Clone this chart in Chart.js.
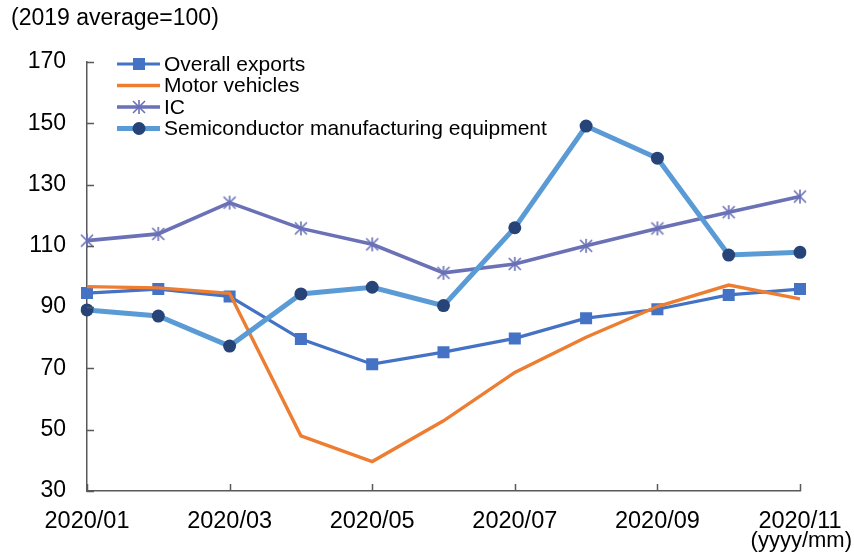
<!DOCTYPE html>
<html>
<head>
<meta charset="utf-8">
<style>
  html, body { margin: 0; padding: 0; background: #ffffff; }
  canvas { display: block; }
</style>
<script src="https://cdn.jsdelivr.net/npm/chart.js@4/dist/chart.umd.min.js"></script>
</head>
<body>
<canvas id="chart" width="854" height="555"></canvas>
<script>
// Monthly export indices, 2019 average = 100
const months = ['2020/01', '2020/02', '2020/03', '2020/04', '2020/05', '2020/06',
                '2020/07', '2020/08', '2020/09', '2020/10', '2020/11'];
const overallExports = [94.6, 95.9, 93.5, 79.6, 71.4, 75.3, 79.8, 86.4, 89.3, 94.0, 95.9];
const motorVehicles  = [96.7, 96.3, 94.5, 48.0, 39.6, 52.9, 68.7, 80.2, 90.2, 97.2, 92.7];
const icExports      = [111.7, 113.9, 124.1, 115.7, 110.5, 101.2, 104.1, 110.0, 115.7, 121.0, 126.1];
const semiEquipment  = [89.1, 87.1, 77.3, 94.3, 96.5, 90.5, 115.9, 149.1, 138.6, 107.0, 107.9];
const yTicks = [30, 50, 70, 90, 110, 130, 150, 170];
const seriesNames = ['Overall exports', 'Motor vehicles', 'IC', 'Semiconductor manufacturing equipment'];

const FONT = '"Liberation Sans", Arial, sans-serif';
const AXIS_COLOR = '#595959';
const IC_COLOR = '#6A71B6';

// Asterisk-style marker (X plus a vertical stroke)
function makeStar(color) {
  const c = document.createElement('canvas');
  c.width = 16; c.height = 16;
  const g = c.getContext('2d');
  g.strokeStyle = color;
  g.lineWidth = 1.6;
  g.beginPath();
  g.moveTo(2, 2);  g.lineTo(14, 14);
  g.moveTo(14, 2); g.lineTo(2, 14);
  g.moveTo(8, 1);  g.lineTo(8, 15);
  g.stroke();
  return c;
}
const starImg = makeStar(IC_COLOR);

// Inward tick marks, title and unit note
const decorations = {
  id: 'decorations',
  afterDraw(chart) {
    const ctx = chart.ctx;
    const x = chart.scales.x, y = chart.scales.y;
    const area = chart.chartArea;
    ctx.save();
    ctx.strokeStyle = AXIS_COLOR;
    ctx.lineWidth = 1.5;
    ctx.beginPath();
    yTicks.forEach(v => {
      const py = Math.round(y.getPixelForValue(v)) + 0.5;
      ctx.moveTo(area.left, py);
      ctx.lineTo(area.left + 7, py);
    });
    months.forEach((m, i) => {
      if (i % 2 !== 0) return;
      const px = Math.round(x.getPixelForValue(i)) + 0.5;
      ctx.moveTo(px, area.bottom);
      ctx.lineTo(px, area.bottom - 7);
    });
    ctx.stroke();

    ctx.fillStyle = '#000000';
    ctx.font = '23px ' + FONT;
    ctx.textAlign = 'left';
    ctx.textBaseline = 'middle';
    ctx.fillText('(2019 average=100)', 11, 19);

    ctx.font = '22px ' + FONT;
    ctx.textAlign = 'right';
    ctx.fillText('(yyyy/mm)', 852, 541);
    ctx.restore();
  }
};

// Legend drawn inside the plot, top-left
const insideLegend = {
  id: 'insideLegend',
  afterDraw(chart) {
    const ctx = chart.ctx;
    const x0 = 117, x1 = 160, xm = 139, tx = 164;
    const rows = [64, 85.5, 107, 128.5];
    ctx.save();
    chart.data.datasets.forEach((ds, i) => {
      const ry = rows[i];
      ctx.strokeStyle = ds.borderColor;
      ctx.lineWidth = ds.borderWidth;
      ctx.beginPath();
      ctx.moveTo(x0, ry);
      ctx.lineTo(x1, ry);
      ctx.stroke();
      if (ds.pointStyle === 'rect') {
        const s = 12;
        ctx.fillStyle = ds.pointBackgroundColor;
        ctx.fillRect(xm - s / 2, ry - s / 2, s, s);
      } else if (ds.pointStyle === 'circle') {
        ctx.fillStyle = ds.pointBackgroundColor;
        ctx.beginPath();
        ctx.arc(xm, ry, 6.5, 0, Math.PI * 2);
        ctx.fill();
      } else if (ds.pointStyle instanceof HTMLCanvasElement) {
        ctx.drawImage(ds.pointStyle, xm - 8, ry - 8);
      }
      ctx.fillStyle = '#000000';
      ctx.font = '21px ' + FONT;
      ctx.textAlign = 'left';
      ctx.textBaseline = 'middle';
      ctx.fillText(ds.label, tx, ry + 1);
    });
    ctx.restore();
  }
};

new Chart(document.getElementById('chart'), {
  type: 'line',
  data: {
    labels: months,
    datasets: [
      {
        label: seriesNames[0],
        data: overallExports,
        borderColor: '#4472C4',
        borderWidth: 3.2,
        pointStyle: 'rect',
        pointRadius: 8.5,
        pointBackgroundColor: '#4472C4',
        pointBorderColor: '#4472C4',
        pointBorderWidth: 0,
        order: 3
      },
      {
        label: seriesNames[1],
        data: motorVehicles,
        borderColor: '#ED7D31',
        borderWidth: 3.4,
        pointRadius: 0,
        order: 2
      },
      {
        label: seriesNames[2],
        data: icExports,
        borderColor: IC_COLOR,
        borderWidth: 3.6,
        pointStyle: starImg,
        pointRadius: 8,
        order: 1
      },
      {
        label: seriesNames[3],
        data: semiEquipment,
        borderColor: '#5B9BD5',
        borderWidth: 5,
        pointStyle: 'circle',
        pointRadius: 6.5,
        pointBackgroundColor: '#264478',
        pointBorderColor: '#264478',
        pointBorderWidth: 0,
        order: 0
      }
    ]
  },
  options: {
    responsive: false,
    animation: false,
    events: [],
    layout: { padding: { left: 0, top: 62, right: 54, bottom: 0 } },
    elements: { line: { tension: 0, borderJoinStyle: 'miter' } },
    plugins: {
      legend: { display: false },
      title: { display: false },
      tooltip: { enabled: false }
    },
    scales: {
      x: {
        type: 'category',
        offset: false,
        grid: { display: false, drawTicks: false },
        border: { display: true, color: AXIS_COLOR, width: 1.5 },
        ticks: {
          autoSkip: false,
          maxRotation: 0,
          padding: 16,
          color: '#000000',
          font: { family: FONT, size: 23.5 },
          callback: (v, i) => (i % 2 === 0 ? months[i] : '')
        },
        afterFit: s => { s.height = 64; s.paddingLeft = 0; s.paddingRight = 0; }
      },
      y: {
        min: 30,
        max: 170,
        afterBuildTicks: s => { s.ticks = yTicks.map(v => ({ value: v })); },
        grid: { display: false, drawTicks: false },
        border: { display: true, color: AXIS_COLOR, width: 1.5 },
        ticks: {
          padding: 21,
          color: '#000000',
          font: { family: FONT, size: 23 }
        },
        afterFit: s => { s.width = 87; s.paddingTop = 0; s.paddingBottom = 0; }
      }
    }
  },
  plugins: [decorations, insideLegend]
});
</script>
</body>
</html>
